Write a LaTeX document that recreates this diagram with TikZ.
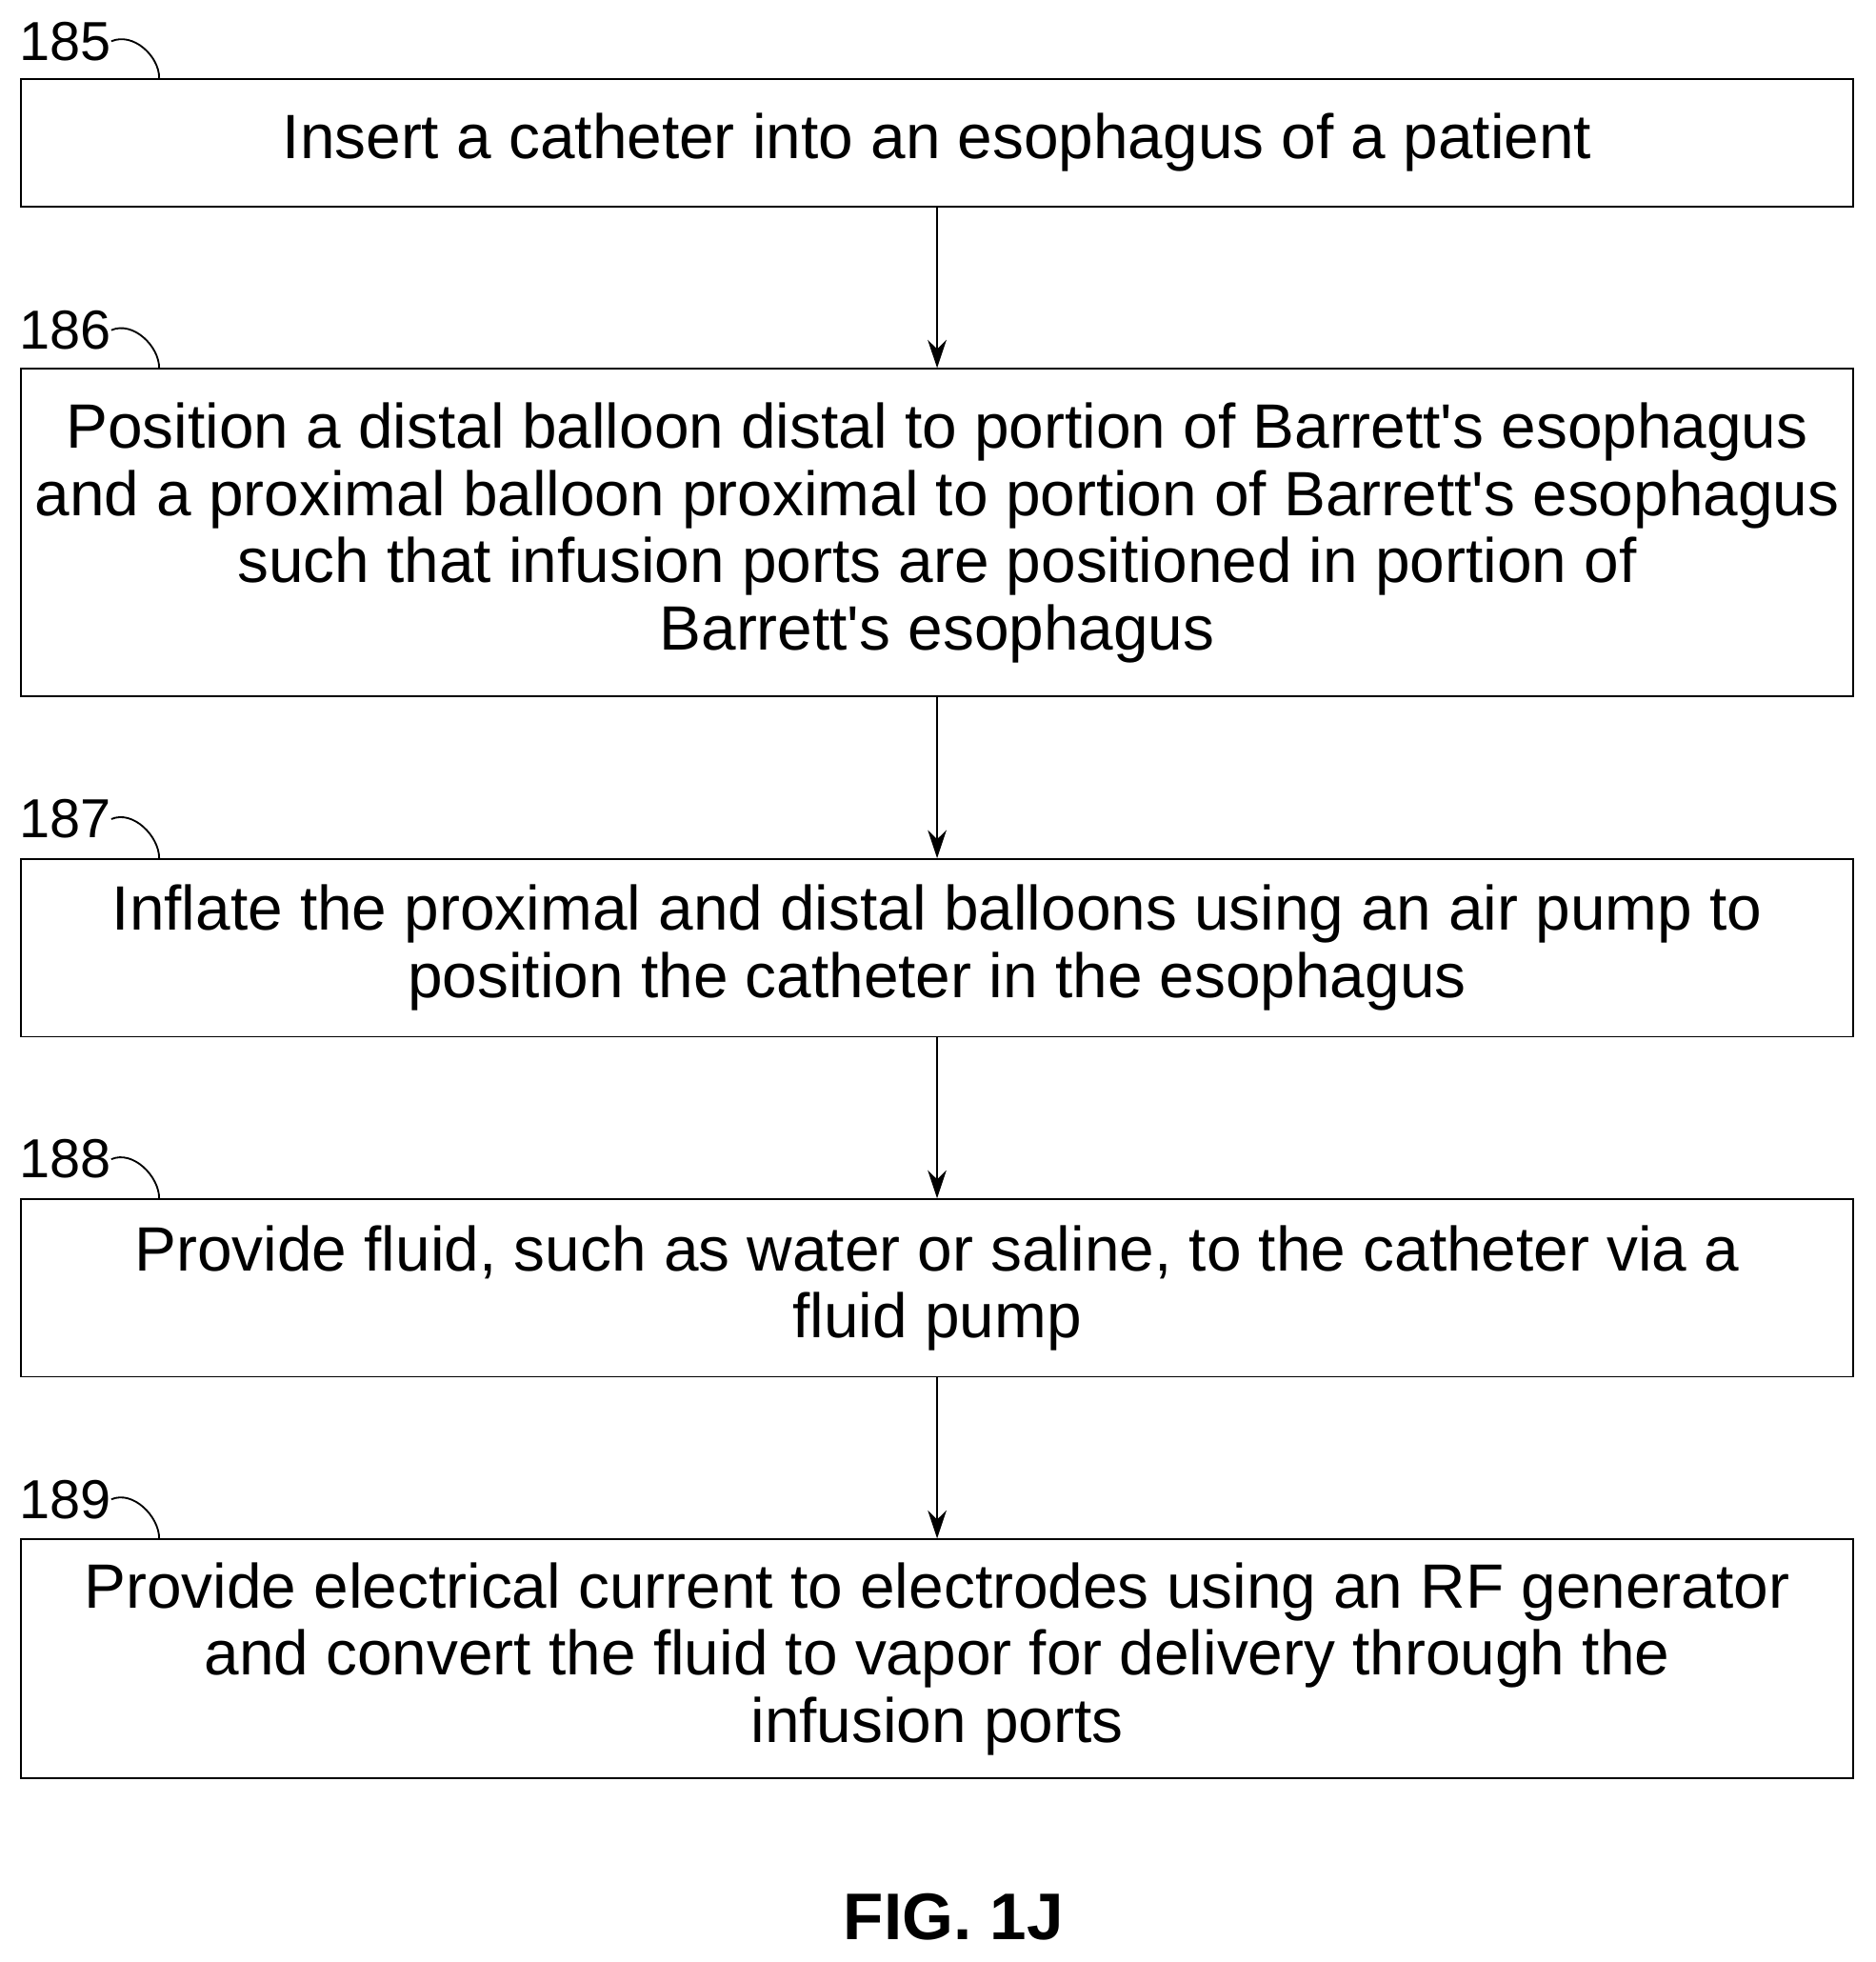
\documentclass[tikz,border=0pt]{standalone}
\usepackage{fontspec}
\setmainfont{Liberation Sans}
\usetikzlibrary{positioning, calc, arrows.meta}
\tikzset{
    stepbox/.style={draw, thick, minimum width=29.3cm, align=center, inner sep=0pt,
                 font=\fontsize{28.5}{30.6}\selectfont}, % one box of the flow chart
    num/.style={font=\fontsize{25}{28}\selectfont, inner sep=0pt}, % reference numeral
    flow/.style={-{Stealth[length=0.45cm,width=0.3cm]}, thick},
    tick/.style={thick},
}
\newcommand{\apos}{\textquotesingle}
\begin{document}
\begin{tikzpicture}
\useasboundingbox (0,0) rectangle (30,-31.38);
\node[stepbox, minimum height=2.04cm] (b185) at (14.99,-2.28) {Insert a catheter into an esophagus of a patient};
\node[stepbox, minimum height=5.24cm] (b186) at (14.99,-8.52) {Position a distal balloon distal to portion of Barrett\apos s esophagus\\and a proximal balloon proximal to portion of Barrett\apos s esophagus\\such that infusion ports are positioned in portion of\\Barrett\apos s esophagus};
\node[stepbox, minimum height=2.84cm] (b187) at (14.99,-15.16) {Inflate the proximal and distal balloons using an air pump to\\position the catheter in the esophagus};
\node[stepbox, minimum height=2.84cm] (b188) at (14.99,-20.6) {Provide fluid, such as water or saline, to the catheter via a\\fluid pump};
\node[stepbox, minimum height=3.82cm] (b189) at (14.99,-26.53) {Provide electrical current to electrodes using an RF generator\\and convert the fluid to vapor for delivery through the\\infusion ports};
\foreach \n/\y in {185/-0.66, 186/-5.28, 187/-13.1, 188/-18.54, 189/-23.98} {
    \node[num] (l\n) at (1.04,\y) {\n};
    \coordinate (t\n) at ($(b\n.north west)+(2.22,0)$);
    \draw[tick] (l\n.east) .. controls +(0.35,0.15) and +(0,0.35) .. (t\n);
}
\draw[flow] (b185) -- (b186);
\draw[flow] (b186) -- (b187);
\draw[flow] (b187) -- (b188);
\draw[flow] (b188) -- (b189);
\node[font=\fontsize{30}{34}\selectfont\bfseries] (fig) at (15.25,-30.66) {FIG. 1J};
\end{tikzpicture}
\end{document}
